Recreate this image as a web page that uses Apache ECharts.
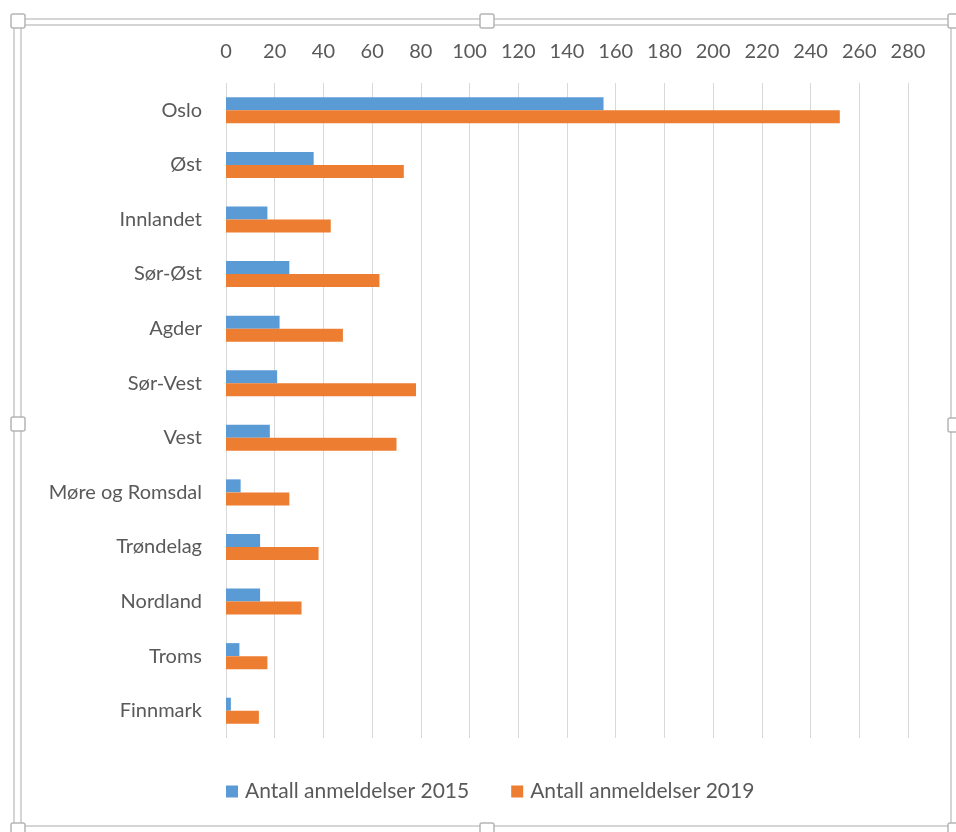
<!DOCTYPE html>
<html>
<head>
<meta charset="utf-8">
<script src="https://cdn.jsdelivr.net/npm/echarts@6/dist/echarts.min.js"></script>
<style>
  html, body { margin: 0; padding: 0; background: #fff; }
  #chart { width: 956px; height: 832px; }
</style>
</head>
<body>
<div id="chart"></div>
<script>
// regions, top to bottom
const regions = ['Oslo', 'Øst', 'Innlandet', 'Sør-Øst', 'Agder', 'Sør-Vest', 'Vest',
  'Møre og Romsdal', 'Trøndelag', 'Nordland', 'Troms', 'Finnmark'];
const reports2015 = [155, 36, 17, 26, 22, 21, 18, 6, 14, 14, 5.5, 2];
const reports2019 = [252, 73, 43, 63, 48, 78, 70, 26, 38, 31, 17, 13.5];
const seriesNames = ['Antall anmeldelser 2015', 'Antall anmeldelser 2019'];

const textColor = '#595959';
const fontFamily = 'Lato, "Open Sans", sans-serif';

// frame + resize handles (like the Office selection box around the chart)
const frameColor = '#c8c8c8';
function handle(x, y) {
  return {
    type: 'rect',
    shape: { x: x - 7, y: y - 7, width: 14, height: 14, r: 2 },
    style: { fill: '#fff', stroke: '#b5b5b5', lineWidth: 1.5 },
    z: 10
  };
}
const frame = [
  { type: 'rect', shape: { x: 14, y: 19, width: 937, height: 807 },
    style: { fill: 'none', stroke: frameColor, lineWidth: 1.5 } },
  { type: 'polyline', shape: { points: [[21, 826], [21, 25], [951, 25]] },
    style: { fill: 'none', stroke: frameColor, lineWidth: 1.5 } },
  handle(18, 21), handle(487, 21), handle(955, 21),
  handle(18, 424), handle(955, 425),
  handle(18, 830), handle(487, 830), handle(955, 830)
];

const chart = echarts.init(document.getElementById('chart'));

const option = {
  animation: false,
  color: ['#5B9BD5', '#ED7D31'],
  textStyle: { fontFamily: fontFamily },
  graphic: frame,
  grid: { left: 226, top: 83, width: 682, height: 655 },
  legend: {
    data: seriesNames,
    left: 221,
    top: 776,
    icon: 'rect',
    itemWidth: 12,
    itemHeight: 12,
    itemGap: 42,
    textStyle: { color: textColor, fontSize: 21, fontFamily: fontFamily, padding: [0, 0, 0, 2] }
  },
  xAxis: {
    type: 'value',
    position: 'top',
    min: 0,
    max: 280,
    interval: 20,
    axisLine: { show: false },
    axisTick: { show: false },
    axisLabel: { color: textColor, fontSize: 20, margin: 21 },
    splitLine: { lineStyle: { color: '#d9d9d9', width: 1 } }
  },
  yAxis: {
    type: 'category',
    inverse: true,
    data: regions,
    axisLine: { show: false },
    axisTick: { show: false },
    axisLabel: { color: textColor, fontSize: 20, margin: 24 }
  },
  series: [
    { name: seriesNames[0], type: 'bar', data: reports2015, barWidth: 13, barGap: '0%' },
    { name: seriesNames[1], type: 'bar', data: reports2019, barWidth: 13, barGap: '0%' }
  ]
};

chart.setOption(option);
</script>
</body>
</html>
